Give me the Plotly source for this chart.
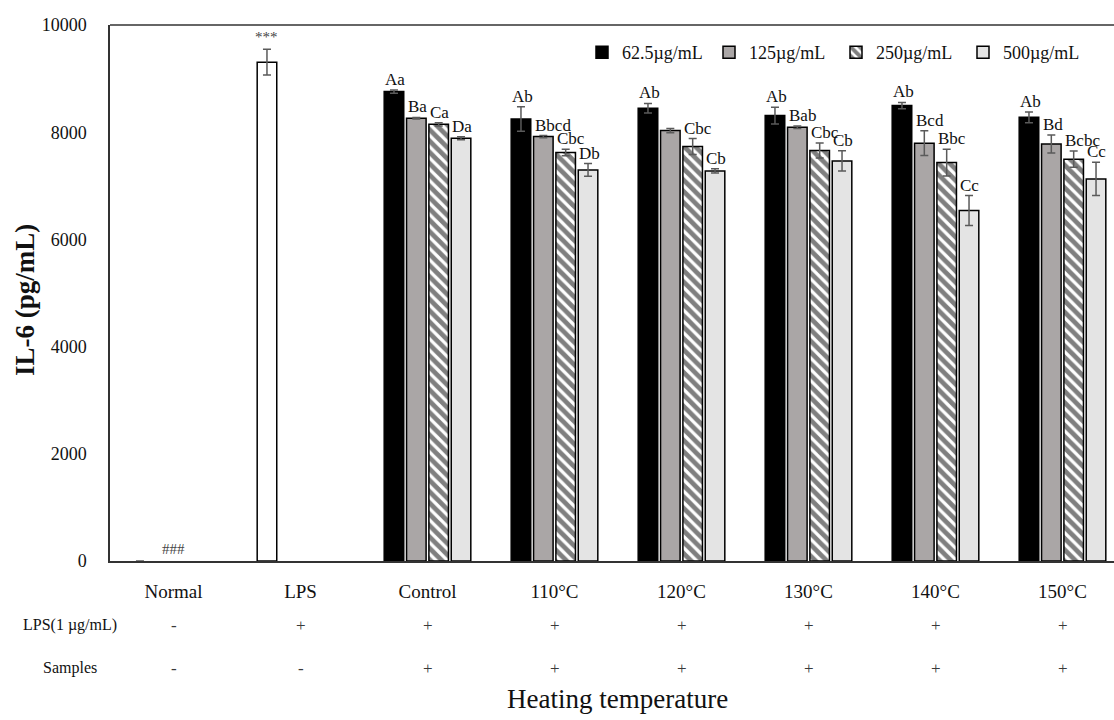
import plotly.graph_objects as go

# ---------------- data ----------------
categories = ["Normal", "LPS", "Control", "110°C", "120°C", "130°C", "140°C", "150°C"]
series_names = ["62.5µg/mL", "125µg/mL", "250µg/mL", "500µg/mL"]

# reference groups (Normal, LPS)
ref_vals = [0, 9306]
ref_err = [0, 240]
ref_marks = ["###", "***"]

# treated groups (Control ... 150°C)
v625 = [8757, 8247, 8447, 8310, 8496, 8278]
e625 = [30, 230, 90, 155, 60, 100]
v125 = [8260, 7918, 8030, 8093, 7795, 7780]
e125 = [15, 20, 40, 25, 230, 170]
v250 = [8148, 7620, 7732, 7657, 7433, 7497]
e250 = [30, 60, 150, 140, 250, 150]
v500 = [7887, 7296, 7277, 7465, 6537, 7128]
e500 = [30, 120, 40, 190, 280, 310]

l625 = ["Aa", "Ab", "Ab", "Ab", "Ab", "Ab"]
l125 = ["Ba", "Bbcd", "", "Bab", "Bcd", "Bd"]
l250 = ["Ca", "Cbc", "Cbc", "Cbc", "Bbc", "Bcbc"]
l500 = ["Da", "Db", "Cb", "Cb", "Cc", "Cc"]

lps_signs = ["-", "+", "+", "+", "+", "+", "+", "+"]
sample_signs = ["-", "-", "+", "+", "+", "+", "+", "+"]
row_labels = ["LPS(1 µg/mL)", "Samples"]

x_title = "Heating temperature"
y_title = "IL-6 (pg/mL)"
y_ticks = [0, 2000, 4000, 6000, 8000, 10000]
y_ticktext = ["0", "2000", "4000", "6000", "8000", "10000"]

# ---------------- styling ----------------
FONT = "Liberation Serif, Times New Roman, serif"
W, H = 1114, 720
ML, MR, MT, MB = 110, 0, 25, 159
plot_w = W - ML - MR
plot_h = H - MT - MB
cat_px = 127.0
xmax = -0.5 + plot_w / cat_px

bar_w = 0.154
slot_centers = [-0.264, -0.088, 0.088, 0.264]

fills = ["#000000", "#aaa6a6", "#ffffff", "#e4e4e4"]
patterns = ["", "", "\\", ""]

fig = go.Figure()

treated_x = list(range(2, 8))
vals = [v625, v125, v250, v500]
errs = [e625, e125, e250, e500]
labs = [l625, l125, l250, l500]

err_style = dict(type="data", visible=True, color="#5a5a5a", thickness=1.5, width=4)

# Normal / LPS reference bars (slot 0)
fig.add_trace(go.Bar(
    x=[0, 1], y=ref_vals,
    width=bar_w, offset=slot_centers[0] - bar_w / 2,
    marker=dict(color="#ffffff", line=dict(color="#000000", width=[0, 1.5])),
    error_y=dict(array=ref_err, **err_style),
    showlegend=False, hoverinfo="skip",
))

for k in range(4):
    fig.add_trace(go.Bar(
        x=treated_x, y=vals[k], name=series_names[k],
        width=bar_w, offset=slot_centers[k] - bar_w / 2,
        marker=dict(
            color=fills[k],
            line=dict(color="#000000", width=1.5),
            pattern=dict(shape=patterns[k], fgcolor="#000000", bgcolor="#ffffff",
                         size=8, solidity=0.6) if patterns[k] else None,
        ),
        error_y=dict(array=errs[k], **err_style),
        hoverinfo="skip",
    ))

annotations = []
# significance letters
for k in range(4):
    for i, xi in enumerate(treated_x):
        if not labs[k][i]:
            continue
        annotations.append(dict(
            x=xi + slot_centers[k] - bar_w / 2, y=vals[k][i] + errs[k][i],
            xref="x", yref="y", text=labs[k][i], showarrow=False,
            xanchor="left", yanchor="bottom", yshift=-1, xshift=-1,
            font=dict(family=FONT, size=17, color="#111111"),
        ))
# ### and ***
annotations.append(dict(x=0, y=ref_vals[0], xref="x", yref="y", text=ref_marks[0],
                        showarrow=False, xanchor="center", yanchor="bottom", yshift=2,
                        font=dict(family=FONT, size=15, color="#444444")))
annotations.append(dict(x=1 + slot_centers[0], y=ref_vals[1] + ref_err[1], xref="x", yref="y",
                        text=ref_marks[1], showarrow=False, xanchor="center", yanchor="bottom",
                        yshift=2, font=dict(family=FONT, size=15, color="#444444")))

def py(px):
    return (H - MB - px) / plot_h
def pxp(px):
    return (px - ML) / plot_w

row_y = [625, 668]
for r, signs in enumerate([lps_signs, sample_signs]):
    annotations.append(dict(x=pxp(70), y=py(row_y[r]), xref="paper", yref="paper",
                            text=row_labels[r], showarrow=False, xanchor="center", yanchor="middle",
                            font=dict(family=FONT, size=16, color="#111111")))
    for i, s in enumerate(signs):
        annotations.append(dict(x=i, y=py(row_y[r]), xref="x", yref="paper",
                                text=s, showarrow=False, xanchor="center", yanchor="middle",
                                font=dict(family=FONT, size=17, color="#3a3a3a")))

annotations.append(dict(x=pxp(617), y=py(699), xref="paper", yref="paper", text=x_title,
                        showarrow=False, xanchor="center", yanchor="middle",
                        font=dict(family=FONT, size=27, color="#111111")))
annotations.append(dict(x=pxp(25), y=py(300), xref="paper", yref="paper", text="<b>" + y_title + "</b>",
                        showarrow=False, xanchor="center", yanchor="middle", textangle=-90,
                        font=dict(family=FONT, size=27, color="#111111")))

fig.update_layout(
    width=W, height=H,
    margin=dict(l=ML, r=MR, t=MT, b=MB, pad=0, autoexpand=False),
    paper_bgcolor="#ffffff", plot_bgcolor="#ffffff",
    barmode="overlay",
    font=dict(family=FONT, size=18, color="#111111"),
    showlegend=True,
    legend=dict(orientation="h", x=pxp(582), y=py(34), xanchor="left", yanchor="top",
                font=dict(family=FONT, size=18, color="#111111"),
                entrywidth=82, entrywidthmode="pixels", itemwidth=30,
                bgcolor="rgba(0,0,0,0)", tracegroupgap=0),
    annotations=annotations,
    shapes=[dict(type="line", xref="paper", yref="paper", x0=0, x1=1, y0=1, y1=1,
                 line=dict(color="#333333", width=1.5))],
)

fig.update_xaxes(
    range=[-0.5, xmax], tickmode="array", tickvals=list(range(len(categories))),
    ticktext=categories, showgrid=False, zeroline=False,
    showline=True, linecolor="#333333", linewidth=1.5, ticks="",
    tickfont=dict(family=FONT, size=19, color="#111111"), ticklabelstandoff=12,
    automargin=False,
)
fig.update_yaxes(
    range=[0, 10000], tickmode="array", tickvals=y_ticks, ticktext=y_ticktext,
    showgrid=False, zeroline=False, showline=True, linecolor="#333333", linewidth=1.5,
    ticks="", tickfont=dict(family=FONT, size=18, color="#111111"), ticklabelstandoff=18,
    automargin=False,
)

fig.write_html("out.html", config={"displayModeBar": False},
               post_script="document.body.style.margin='0px';")
